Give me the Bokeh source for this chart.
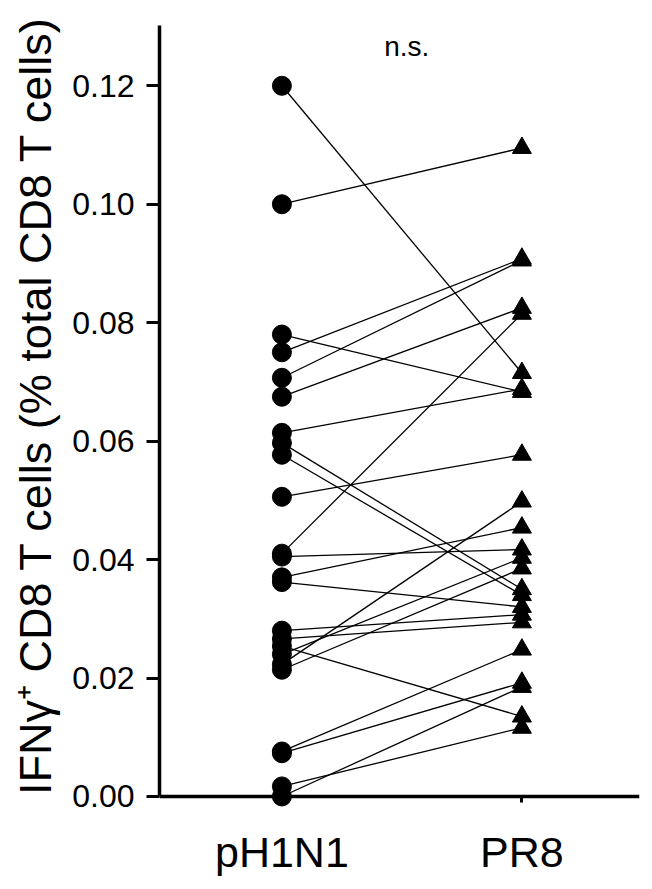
from bokeh.plotting import figure
from bokeh.models import (ColumnDataSource, Range1d, FixedTicker, NumeralTickFormatter,
                          Label, LinearAxis)
from bokeh.embed import file_html
from bokeh.resources import INLINE

# ---- data ----
categories = ["pH1N1", "PR8"]
ph1n1 = [0.1200, 0.1000, 0.0780, 0.0750, 0.0707, 0.0675, 0.0614, 0.0597, 0.0577, 0.0506,
         0.0410, 0.0405, 0.0370, 0.0362, 0.0280, 0.0266, 0.0254, 0.0240, 0.0223, 0.0214,
         0.0076, 0.0073, 0.0017, 0.0000]
pr8 = [0.0715, 0.1095, 0.0683, 0.0908, 0.0905, 0.0825, 0.0688, 0.0350, 0.0340, 0.0577,
       0.0815, 0.0417, 0.0454, 0.0320, 0.0307, 0.0294, 0.0135, 0.0403, 0.0498, 0.0385,
       0.0248, 0.0192, 0.0116, 0.0185]
y_ticks = [0.00, 0.02, 0.04, 0.06, 0.08, 0.10, 0.12]
y_label = "IFNγ\u207A CD8 T cells (% total CD8 T cells)"
annotation = "n.s."

FONT = "Liberation Sans"

x_pos = {c: i + 1 for i, c in enumerate(categories)}
n = len(ph1n1)
src = ColumnDataSource(dict(
    x0=[x_pos[categories[0]]] * n,
    x1=[x_pos[categories[1]]] * n,
    y0=ph1n1,
    y1=pr8,
))

p = figure(frame_width=480, frame_height=809,
           output_backend="svg", toolbar_location=None,
           x_range=Range1d(0.49, 2.49), y_range=Range1d(-0.0022, 0.1344),
           min_border_left=159, min_border_right=4, min_border_top=0, min_border_bottom=4,
           background_fill_color="white", border_fill_color="white")
p.outline_line_color = None
p.xgrid.visible = False
p.ygrid.visible = False

p.segment("x0", "y0", "x1", "y1", source=src, line_color="black", line_width=1.3)
p.scatter("x0", "y0", source=src, marker="circle", size=19, color="black")
p.scatter("x1", "y1", source=src, marker="triangle", size=19, color="black")

# x axis line + ticks drawn at y = 0
xa = p.xaxis[0]
xa.ticker = FixedTicker(ticks=[x_pos[c] for c in categories])
xa.major_label_overrides = {x_pos[c]: "" for c in categories}
xa.fixed_location = 0
xa.axis_line_width = 3.5
xa.axis_line_color = "black"
xa.major_tick_out = 6
xa.major_tick_in = 0
xa.major_tick_line_width = 3
xa.minor_tick_out = 0
xa.minor_tick_in = 0

# category labels below the frame
lab_axis = LinearAxis(ticker=FixedTicker(ticks=[x_pos[c] for c in categories]),
                      major_label_overrides={x_pos[c]: c for c in categories},
                      axis_line_color=None, major_tick_line_color=None,
                      minor_tick_line_color=None,
                      major_label_text_font=FONT, major_label_text_font_size="43px",
                      major_label_text_color="black", major_label_standoff=12)
p.add_layout(lab_axis, "below")

ya = p.yaxis[0]
ya.ticker = FixedTicker(ticks=y_ticks)
ya.formatter = NumeralTickFormatter(format="0.00")
ya.bounds = (0, 0.1301)
ya.axis_line_width = 3.5
ya.axis_line_color = "black"
ya.major_tick_out = 13
ya.major_tick_in = 0
ya.major_tick_line_width = 3
ya.minor_tick_out = 0
ya.minor_tick_in = 0
ya.major_label_text_font = FONT
ya.major_label_text_font_size = "32px"
ya.major_label_text_color = "black"
ya.major_label_standoff = 12
ya.axis_label = y_label
ya.axis_label_text_font = FONT
ya.axis_label_text_font_size = "45px"
ya.axis_label_text_font_style = "normal"
ya.axis_label_text_color = "black"
ya.axis_label_standoff = 8

p.add_layout(Label(x=1.52, y=0.1266, text=annotation, text_align="center",
                   text_baseline="alphabetic", text_font=FONT,
                   text_font_size="28px", text_color="black"))

open("out.html", "w").write(file_html(p, INLINE))
